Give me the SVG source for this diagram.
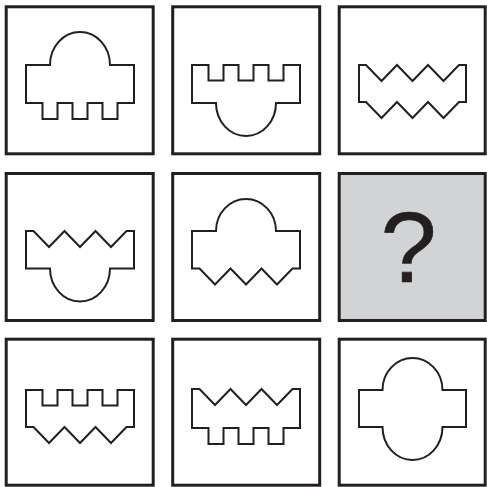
<svg xmlns="http://www.w3.org/2000/svg" width="487" height="487" viewBox="0 0 487 487">
<style>
.box{fill:#fff;stroke:#231f20;stroke-width:3}
.q{fill:#d1d3d4}
.shape{fill:#fff;stroke:#231f20;stroke-width:2;stroke-linejoin:miter}
.qt{font-family:"Liberation Sans",Arial,sans-serif;font-size:101px;fill:#231f20;stroke:#231f20;stroke-width:0.6;text-anchor:middle}
</style>
<rect width="487" height="487" fill="#fff"/>
<g id="cell1"><rect class="box" x="6.2" y="6.8" width="147" height="147"/>
<path class="shape" d="M26,65 H50 A30,33 0 0 1 110,65 H134 V103 H117.5 V119 H102.5 V103 H87.5 V119 H72.5 V103 H57.5 V119 H42.5 V103 H26 Z"/></g>
<g id="cell2"><rect class="box" x="172.7" y="6.8" width="147" height="147"/>
<path class="shape" d="M192,65 H208.5 V80.5 H223.5 V65 H238.5 V80.5 H253.5 V65 H268.5 V80.5 H283.5 V65 H300 V103 H276 A30,33 0 0 1 216,103 H192 Z"/></g>
<g id="cell3"><rect class="box" x="339.2" y="6.8" width="146" height="147"/>
<path class="shape" d="M359,65 H366 L381.5,81 L397,65 L412.5,81 L428,65 L443.5,81 L459,65 H466 V102 H459 L443.5,118 L428,102 L412.5,118 L397,102 L381.5,118 L366,102 H359 Z"/></g>
<g id="cell4"><rect class="box" x="6.2" y="173.5" width="147" height="147"/>
<path class="shape" d="M26,231 H33.5 L49,247 L64.5,231 L80,247 L95.5,231 L111,247 L126.5,231 H134 V268.5 H110 A30,33 0 0 1 50,268.5 H26 Z"/></g>
<g id="cell5"><rect class="box" x="172.7" y="173.5" width="147" height="147"/>
<path class="shape" d="M192,231 H216 A30,32 0 0 1 276,231 H300 V268.5 H292.5 L277,284.5 L261.5,268.5 L246,284.5 L230.5,268.5 L215,284.5 L199.5,268.5 H192 Z"/></g>
<g id="cell6"><rect class="box q" x="339.2" y="173.5" width="146" height="147"/>
<text class="qt" x="408.5" y="281.5">?</text></g>
<g id="cell7"><rect class="box" x="6.2" y="339.2" width="147" height="146"/>
<path class="shape" d="M26,390 H42.5 V405.5 H57.5 V390 H72.5 V405.5 H87.5 V390 H102.5 V405.5 H117.5 V390 H134 V427 H126.5 L111,443 L95.5,427 L80,443 L64.5,427 L49,443 L33.5,427 H26 Z"/></g>
<g id="cell8"><rect class="box" x="172.7" y="339.2" width="147" height="146"/>
<path class="shape" d="M192,389 H199.5 L215,405 L230.5,389 L246,405 L261.5,389 L277,405 L292.5,389 H300 V428 H283.5 V444 H268.5 V428 H253.5 V444 H238.5 V428 H223.5 V444 H208.5 V428 H192 Z"/></g>
<g id="cell9"><rect class="box" x="339.2" y="339.2" width="146" height="146"/>
<path class="shape" d="M359,390 H382.5 A30,32 0 0 1 442.5,390 H466 V427 H442.5 A30,33 0 0 1 382.5,427 H359 Z"/></g>
</svg>
